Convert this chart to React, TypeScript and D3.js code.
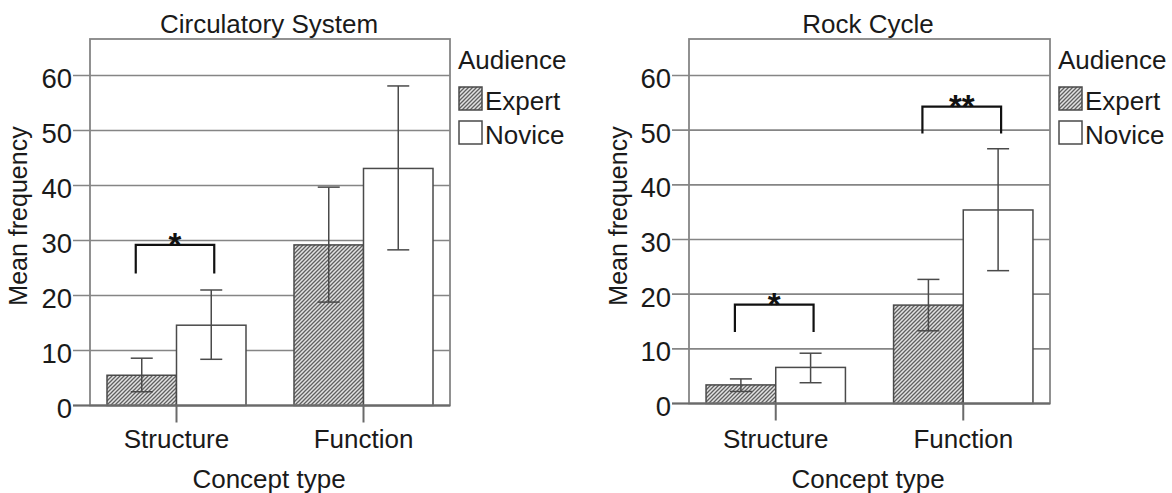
import React from "react";
import * as d3 from "d3";

const categories = ["Structure", "Function"];
const audiences = ["Expert", "Novice"];
const yTicks = [0, 10, 20, 30, 40, 50, 60];

// Circulatory System
const circExpertMean = [5.5, 29.2];
const circExpertLow = [2.5, 18.8];
const circExpertHigh = [8.6, 39.7];
const circNoviceMean = [14.6, 43.1];
const circNoviceLow = [8.4, 28.3];
const circNoviceHigh = [21.0, 58.1];
const circSigLabels = ["*"];
const circSigCats = ["Structure"];
const circSigTop = [29.2];
const circSigLeg = [24.0];

// Rock Cycle
const rockExpertMean = [3.4, 18.0];
const rockExpertLow = [2.2, 13.3];
const rockExpertHigh = [4.5, 22.7];
const rockNoviceMean = [6.6, 35.4];
const rockNoviceLow = [3.8, 24.3];
const rockNoviceHigh = [9.2, 46.6];
const rockSigLabels = ["*", "**"];
const rockSigCats = ["Structure", "Function"];
const rockSigTop = [18.1, 54.3];
const rockSigLeg = [13.1, 49.4];

const FONT = "'Liberation Sans', Arial, sans-serif";
const GRID = "#858585";
const EDGE = "#4a4a4a";

type PanelProps = {
  title: string;
  x0: number;
  x1: number;
  top: number;
  yZero: number;
  ySixty: number;
  titleX: number;
  labelX: number;
  expertMean: number[];
  expertLow: number[];
  expertHigh: number[];
  noviceMean: number[];
  noviceLow: number[];
  noviceHigh: number[];
  sigLabels: string[];
  sigCats: string[];
  sigTop: number[];
  sigLeg: number[];
};

function Panel(p: PanelProps) {
  const y = d3.scaleLinear().domain([0, 60]).range([p.yZero, p.ySixty]);
  const x = d3
    .scaleBand<string>()
    .domain(categories)
    .range([p.x0, p.x1])
    .paddingInner(0.2567)
    .paddingOuter(0.0909);
  const sub = d3
    .scaleBand<string>()
    .domain(audiences)
    .range([0, x.bandwidth()]);
  const bw = sub.bandwidth();

  const series = [
    { key: "Expert", mean: p.expertMean, low: p.expertLow, high: p.expertHigh, fill: "url(#hatch)" },
    { key: "Novice", mean: p.noviceMean, low: p.noviceLow, high: p.noviceHigh, fill: "#fff" },
  ];

  return (
    <g>
      <text x={p.titleX} y={33} textAnchor="middle" fontSize={26}>
        {p.title}
      </text>
      {/* gridlines + y ticks */}
      {yTicks.map((t) => (
        <g key={t}>
          <line x1={p.x0 - 17} x2={p.x1} y1={y(t)} y2={y(t)} stroke={GRID} strokeWidth={1.6} />
          <text x={p.x0 - 18} y={y(t) + 12.5} textAnchor="end" fontSize={27.5}>
            {t}
          </text>
        </g>
      ))}
      {/* bars */}
      {series.map((s) =>
        categories.map((c, i) => {
          const bx = (x(c) as number) + (sub(s.key) as number);
          const cx = bx + bw / 2;
          return (
            <g key={s.key + c}>
              <rect
                x={bx}
                y={y(s.mean[i])}
                width={bw}
                height={y(0) - y(s.mean[i])}
                fill={s.fill}
                stroke={EDGE}
                strokeWidth={1.5}
              />
              <g stroke={EDGE} strokeWidth={1.5}>
                <line x1={cx} x2={cx} y1={y(s.low[i])} y2={y(s.high[i])} />
                <line x1={cx - 11} x2={cx + 11} y1={y(s.high[i])} y2={y(s.high[i])} />
                <line x1={cx - 11} x2={cx + 11} y1={y(s.low[i])} y2={y(s.low[i])} />
              </g>
            </g>
          );
        })
      )}
      {/* frame */}
      <rect
        x={p.x0}
        y={p.top}
        width={p.x1 - p.x0}
        height={p.yZero - p.top}
        fill="none"
        stroke={GRID}
        strokeWidth={1.8}
      />
      <line x1={p.x0 - 17} x2={p.x1} y1={p.yZero} y2={p.yZero} stroke="#6a6a6a" strokeWidth={2} />
      {/* category ticks */}
      {categories.map((c) => {
        const cx = (x(c) as number) + x.bandwidth() / 2;
        return (
          <g key={c}>
            <line x1={cx} x2={cx} y1={p.yZero} y2={p.yZero + 17} stroke="#6a6a6a" strokeWidth={2} />
            <text x={cx} y={447.5} textAnchor="middle" fontSize={26}>
              {c}
            </text>
          </g>
        );
      })}
      <text x={p.titleX} y={487.5} textAnchor="middle" fontSize={26}>
        Concept type
      </text>
      <text
        transform={`translate(${p.labelX},216) rotate(-90)`}
        textAnchor="middle"
        fontSize={25}
      >
        Mean frequency
      </text>
      {/* significance brackets */}
      {p.sigLabels.map((lab, i) => {
        const gx = x(p.sigCats[i]) as number;
        const l = gx + (sub("Expert") as number) + bw / 2 - 6;
        const r = gx + (sub("Novice") as number) + bw / 2 + 3;
        const yt = y(p.sigTop[i]);
        const yl = y(p.sigLeg[i]);
        return (
          <g key={i}>
            <path
              d={`M${l},${yl}V${yt}H${r}V${yl}`}
              fill="none"
              stroke="#111"
              strokeWidth={2.2}
            />
            <text x={(l + r) / 2} y={yt + 11} textAnchor="middle" fontSize={33} fontWeight="bold" fill="#111">
              {lab}
            </text>
          </g>
        );
      })}
      {/* legend */}
      <text x={p.x1 + 8} y={69} fontSize={26}>
        Audience
      </text>
      {audiences.map((a, i) => (
        <g key={a}>
          <rect
            x={p.x1 + 9}
            y={87 + i * 34}
            width={23}
            height={23}
            fill={i === 0 ? "url(#hatch)" : "#fff"}
            stroke={EDGE}
            strokeWidth={1.5}
          />
          <text x={p.x1 + 35} y={110 + i * 34} fontSize={26}>
            {a}
          </text>
        </g>
      ))}
    </g>
  );
}

export default function App() {
  return (
    <svg
      width={1172}
      height={493}
      style={{ position: "absolute", left: 0, top: 0, background: "#fff" }}
      fontFamily={FONT}
      fill="#1a1a1a"
    >
      <defs>
        <pattern id="hatch" patternUnits="userSpaceOnUse" width={4} height={4}>
          <rect width={4} height={4} fill="#e2e2e2" />
          <path d="M-1,1L1,-1M0,4L4,0M3,5L5,3" stroke="#606060" strokeWidth={1.3} />
        </pattern>
      </defs>
      <rect width={1172} height={493} fill="#fff" />
      <Panel
        title="Circulatory System"
        x0={90}
        x1={450}
        top={39}
        yZero={405.5}
        ySixty={75.5}
        titleX={269}
        labelX={27}
        expertMean={circExpertMean}
        expertLow={circExpertLow}
        expertHigh={circExpertHigh}
        noviceMean={circNoviceMean}
        noviceLow={circNoviceLow}
        noviceHigh={circNoviceHigh}
        sigLabels={circSigLabels}
        sigCats={circSigCats}
        sigTop={circSigTop}
        sigLeg={circSigLeg}
      />
      <Panel
        title="Rock Cycle"
        x0={689}
        x1={1050}
        top={39}
        yZero={403.5}
        ySixty={75.5}
        titleX={868}
        labelX={627}
        expertMean={rockExpertMean}
        expertLow={rockExpertLow}
        expertHigh={rockExpertHigh}
        noviceMean={rockNoviceMean}
        noviceLow={rockNoviceLow}
        noviceHigh={rockNoviceHigh}
        sigLabels={rockSigLabels}
        sigCats={rockSigCats}
        sigTop={rockSigTop}
        sigLeg={rockSigLeg}
      />
    </svg>
  );
}
